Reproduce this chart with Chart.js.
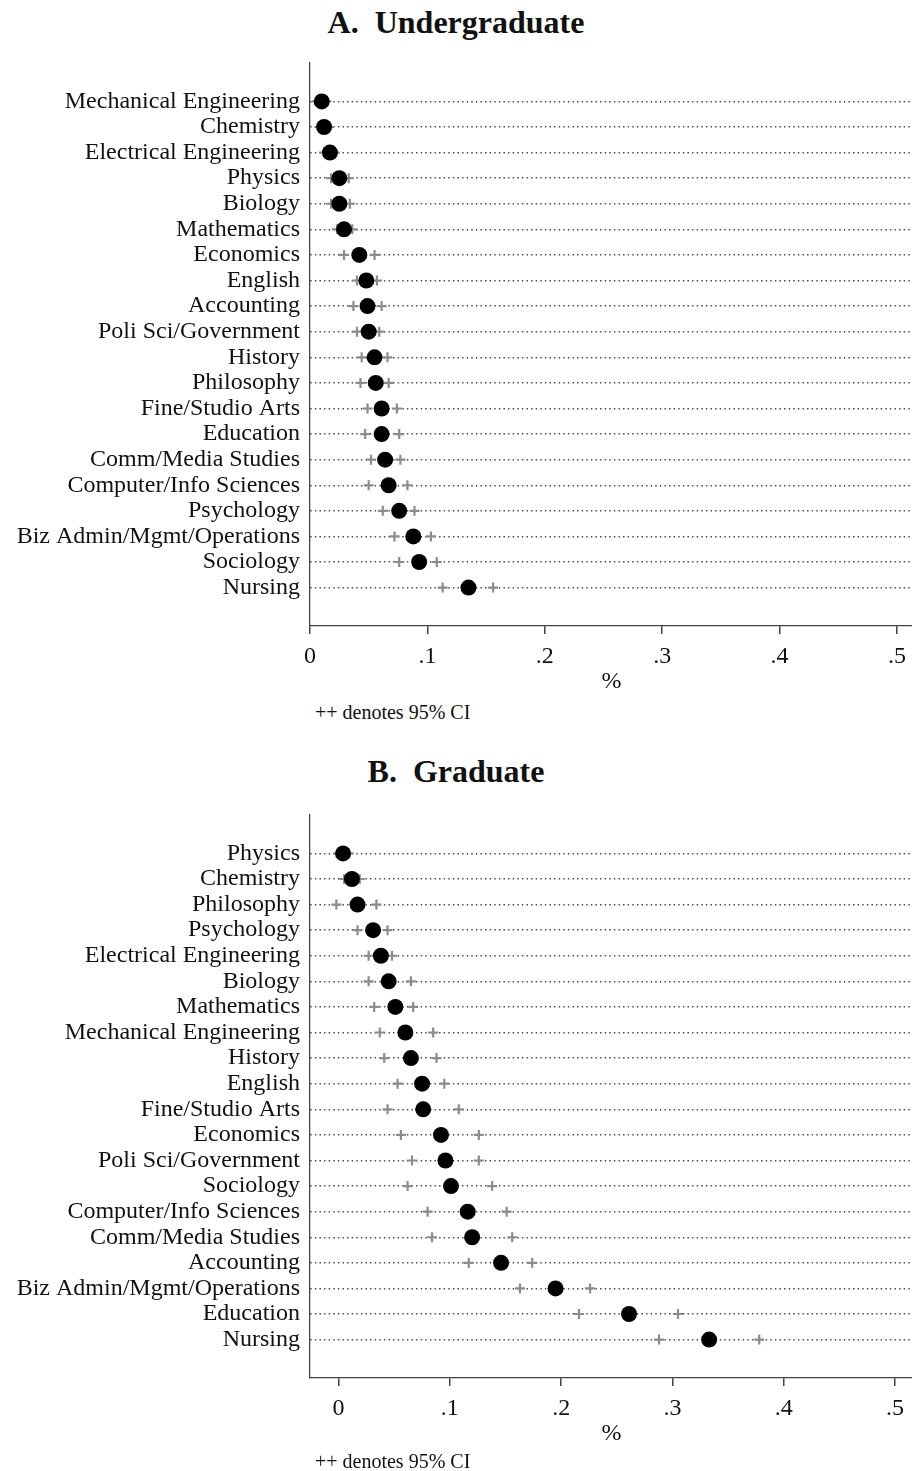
<!DOCTYPE html>
<html>
<head>
<meta charset="utf-8">
<script src="https://cdn.jsdelivr.net/npm/chart.js@4.4.1/dist/chart.umd.min.js"></script>
<style>
    body { margin: 0; background: #fff; width: 912px; height: 1471px; position: relative; overflow: hidden; font-family: 'Liberation Serif', 'Times New Roman', serif; color: #111; }
    .painel { position: absolute; left: 0; width: 921px; height: 700px; }
    .titulo { position: absolute; left: 0; width: 912px; text-align: center; font-weight: bold; font-size: 32px; line-height: 40px; white-space: pre; }
    .nota { position: absolute; left: 315px; font-size: 20px; line-height: 24px; }
</style>
</head>
<body>
<div class="titulo" style="top:2px">A.  Undergraduate</div>
<div class="painel" style="top:0px"><canvas id="graficoA"></canvas></div>
<div class="nota" style="top:700px">++ denotes 95% CI</div>

<div class="titulo" style="top:751px">B.  Graduate</div>
<div class="painel" style="top:752px"><canvas id="graficoB"></canvas></div>
<div class="nota" style="top:1449px">++ denotes 95% CI</div>

<script>
const undergradMajors = ['Mechanical Engineering', 'Chemistry', 'Electrical Engineering', 'Physics', 'Biology',
    'Mathematics', 'Economics', 'English', 'Accounting', 'Poli Sci/Government', 'History', 'Philosophy',
    'Fine/Studio Arts', 'Education', 'Comm/Media Studies', 'Computer/Info Sciences', 'Psychology',
    'Biz Admin/Mgmt/Operations', 'Sociology', 'Nursing'];
const undergradShare = [0.010, 0.012, 0.017, 0.025, 0.025, 0.029, 0.042, 0.048, 0.049, 0.050,
    0.055, 0.056, 0.061, 0.061, 0.064, 0.067, 0.076, 0.088, 0.093, 0.135];
const undergradLow = [0.006, 0.008, 0.012, 0.018, 0.018, 0.023, 0.029, 0.040, 0.037, 0.040,
    0.044, 0.043, 0.049, 0.047, 0.052, 0.050, 0.062, 0.072, 0.076, 0.113];
const undergradHigh = [0.014, 0.016, 0.021, 0.033, 0.034, 0.036, 0.055, 0.057, 0.061, 0.059,
    0.066, 0.067, 0.074, 0.076, 0.077, 0.083, 0.089, 0.103, 0.108, 0.156];

const gradMajors = ['Physics', 'Chemistry', 'Philosophy', 'Psychology', 'Electrical Engineering', 'Biology',
    'Mathematics', 'Mechanical Engineering', 'History', 'English', 'Fine/Studio Arts', 'Economics',
    'Poli Sci/Government', 'Sociology', 'Computer/Info Sciences', 'Comm/Media Studies', 'Accounting',
    'Biz Admin/Mgmt/Operations', 'Education', 'Nursing'];
const gradShare = [0.004, 0.012, 0.017, 0.031, 0.038, 0.045, 0.051, 0.060, 0.065, 0.075,
    0.076, 0.092, 0.096, 0.101, 0.116, 0.120, 0.146, 0.195, 0.261, 0.333];
const gradLow = [0.000, 0.005, -0.002, 0.017, 0.027, 0.027, 0.032, 0.037, 0.041, 0.053,
    0.044, 0.056, 0.066, 0.062, 0.080, 0.084, 0.117, 0.163, 0.216, 0.288];
const gradHigh = [0.009, 0.019, 0.034, 0.044, 0.048, 0.065, 0.067, 0.085, 0.088, 0.095,
    0.108, 0.126, 0.126, 0.138, 0.151, 0.156, 0.174, 0.226, 0.305, 0.378];

const xTickValues = [0, 0.1, 0.2, 0.3, 0.4, 0.5];
const xTickLabels = ['0', '.1', '.2', '.3', '.4', '.5'];

const fonte = 'Liberation Serif';

function plotar(id, cursos, valores, inferior, superior, xMin, xMax) {
    const ctx = document.getElementById(id).getContext('2d');
    const pontos = (arr) => arr.map((v, i) => ({ x: v, y: i }));
    const marcaIC = {
        type: 'scatter',
        pointStyle: 'cross',
        pointRadius: 5,
        borderColor: '#8c8c8c',
        borderWidth: 2.2,
        showLine: false
    };

    return new Chart(ctx, {
        type: 'scatter',
        data: {
            datasets: [
                {
                    label: 'Share',
                    data: pontos(valores),
                    pointStyle: 'circle',
                    pointRadius: 8,
                    backgroundColor: '#000',
                    borderWidth: 0
                },
                Object.assign({ label: 'CI low', data: pontos(inferior) }, marcaIC),
                Object.assign({ label: 'CI high', data: pontos(superior) }, marcaIC)
            ]
        },
        options: {
            animation: false,
            responsive: true,
            maintainAspectRatio: false,
            layout: { padding: { top: 63, right: 0, bottom: 0, left: 0 } },
            plugins: {
                legend: { display: false },
                tooltip: { enabled: false }
            },
            scales: {
                x: {
                    type: 'linear',
                    min: xMin,
                    max: xMax,
                    afterBuildTicks: (s) => { s.ticks = xTickValues.map((v) => ({ value: v })); },
                    afterFit: (s) => { s.height = 74; },
                    ticks: {
                        callback: (v, i) => xTickLabels[i],
                        color: '#111',
                        padding: 8,
                        maxRotation: 0,
                        autoSkip: false,
                        font: { family: fonte, size: 24 }
                    },
                    grid: {
                        drawOnChartArea: false,
                        drawTicks: true,
                        tickLength: 8,
                        color: '#444',
                        lineWidth: 1.5
                    },
                    border: { display: true, color: '#444', width: 1.3 },
                    title: {
                        display: true,
                        text: '%',
                        color: '#111',
                        padding: { top: 0, bottom: 4 },
                        font: { family: fonte, size: 24 }
                    }
                },
                y: {
                    type: 'linear',
                    reverse: true,
                    min: -1.5,
                    max: 20.5,
                    afterBuildTicks: (s) => { s.ticks = cursos.map((c, i) => ({ value: i })); },
                    afterFit: (s) => { s.width = 310; },
                    ticks: {
                        callback: (v, i) => cursos[i],
                        color: '#111',
                        padding: 10,
                        autoSkip: false,
                        font: { family: fonte, size: 24 }
                    },
                    grid: {
                        color: '#444',
                        lineWidth: 1.4,
                        drawTicks: false
                    },
                    border: { display: true, color: '#444', width: 1.3, dash: [1.4, 3.2] }
                }
            }
        }
    });
}

function main() {
    window.graficoA = plotar('graficoA', undergradMajors, undergradShare, undergradLow, undergradHigh, 0, 0.5137);
    window.graficoB = plotar('graficoB', gradMajors, gradShare, gradLow, gradHigh, -0.0257, 0.5162);
}

main();
</script>
</body>
</html>
